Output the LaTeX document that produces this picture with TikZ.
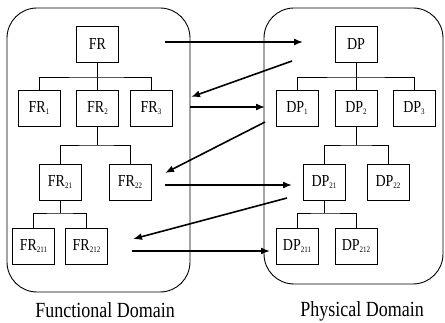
\documentclass[tikz,border=0pt]{standalone}
\usepackage{fontspec}
\setmainfont{Liberation Serif}
\usepackage{graphicx}
\usetikzlibrary{arrows.meta}
\newcommand{\subidx}[1]{\raisebox{-1.5pt}{\fontsize{7}{7}\selectfont #1}}
\newcommand{\tallbox}[1]{\scalebox{1}[1.2]{#1}}
\begin{document}
\begin{tikzpicture}[x=1pt,y=-1pt,
  reqbox/.style={draw,line width=0.8pt,minimum width=42pt,minimum height=36pt,inner sep=0pt,font=\fontsize{14}{16}\selectfont},
  domainbox/.style={draw,line width=0.9pt,rounded corners=30pt},
  maparrow/.style={line width=1.6pt,-{Latex[length=9pt,width=7pt]}},
  treeline/.style={line width=0.8pt},
  domlabel/.style={anchor=base,font=\fontsize{18}{20}\selectfont}]
\useasboundingbox (0,0) rectangle (445,323);

% the two domains
\draw[domainbox] (7,8) rectangle (190,292);
\draw[domainbox] (264,8) rectangle (443,284);

% functional requirements
\node[reqbox] (FR) at (97.5,44.5) {\tallbox{FR}};
\node[reqbox] (FR1) at (39,108) {\tallbox{FR\subidx{1}}};
\node[reqbox] (FR2) at (97.5,108) {\tallbox{FR\subidx{2}}};
\node[reqbox] (FR3) at (151,108) {\tallbox{FR\subidx{3}}};
\node[reqbox] (FR21) at (60,182) {\tallbox{FR\subidx{21}}};
\node[reqbox] (FR22) at (130,182) {\tallbox{FR\subidx{22}}};
\node[reqbox] (FR211) at (33.5,246) {\tallbox{FR\subidx{211}}};
\node[reqbox] (FR212) at (86.5,246) {\tallbox{FR\subidx{212}}};

% design parameters
\node[reqbox] (DP) at (356,44.5) {\tallbox{DP}};
\node[reqbox] (DP1) at (297,108) {\tallbox{DP\subidx{1}}};
\node[reqbox] (DP2) at (356,108) {\tallbox{DP\subidx{2}}};
\node[reqbox] (DP3) at (414,108) {\tallbox{DP\subidx{3}}};
\node[reqbox] (DP21) at (324,182) {\tallbox{DP\subidx{21}}};
\node[reqbox] (DP22) at (388,182) {\tallbox{DP\subidx{22}}};
\node[reqbox] (DP211) at (297,246) {\tallbox{DP\subidx{211}}};
\node[reqbox] (DP212) at (356,246) {\tallbox{DP\subidx{212}}};

% branch points
\coordinate (b1) at (97.5,77);
\coordinate (b2) at (97.5,145);
\coordinate (b3) at (60,213);
\coordinate (d1) at (356,77);
\coordinate (d2) at (356,145);
\coordinate (d3) at (324,213);

\draw[treeline] (FR) -- (FR2);
\draw[treeline] (FR1.north) |- (b1) -| (FR3.north);
\draw[treeline] (FR2) -- (b2);
\draw[treeline] (FR21.north) |- (b2) -| (FR22.north);
\draw[treeline] (FR21) -- (b3);
\draw[treeline] (FR211.north) |- (b3) -| (FR212.north);

\draw[treeline] (DP) -- (DP2);
\draw[treeline] (DP1.north) |- (d1) -| (DP3.north);
\draw[treeline] (DP2) -- (d2);
\draw[treeline] (DP21.north) |- (d2) -| (DP22.north);
\draw[treeline] (DP21) -- (d3);
\draw[treeline] (DP211.north) |- (d3) -| (DP212.north);

% zigzag ends
\coordinate (a1) at (165,42);
\coordinate (p1) at (303,42);
\coordinate (p2) at (292,61);
\coordinate (a2) at (191,97);
\coordinate (a3) at (190,107);
\coordinate (p3) at (265,107);
\coordinate (p4) at (265,122);
\coordinate (a4) at (165,173);
\coordinate (a5) at (165,185);
\coordinate (p5) at (292,185);
\coordinate (p6) at (287,198);
\coordinate (a6) at (133,239);
\coordinate (a7) at (132,251);
\coordinate (p7) at (270,251);

\draw[maparrow] (a1) -- (p1);
\draw[maparrow] (p2) -- (a2);
\draw[maparrow] (a3) -- (p3);
\draw[maparrow] (p4) -- (a4);
\draw[maparrow] (a5) -- (p5);
\draw[maparrow] (p6) -- (a6);
\draw[maparrow] (a7) -- (p7);

\node[domlabel] (fd) at (105,318) {\tallbox{Functional Domain}};
\node[domlabel] (pd) at (362,317) {\tallbox{Physical Domain}};
\end{tikzpicture}
\end{document}
